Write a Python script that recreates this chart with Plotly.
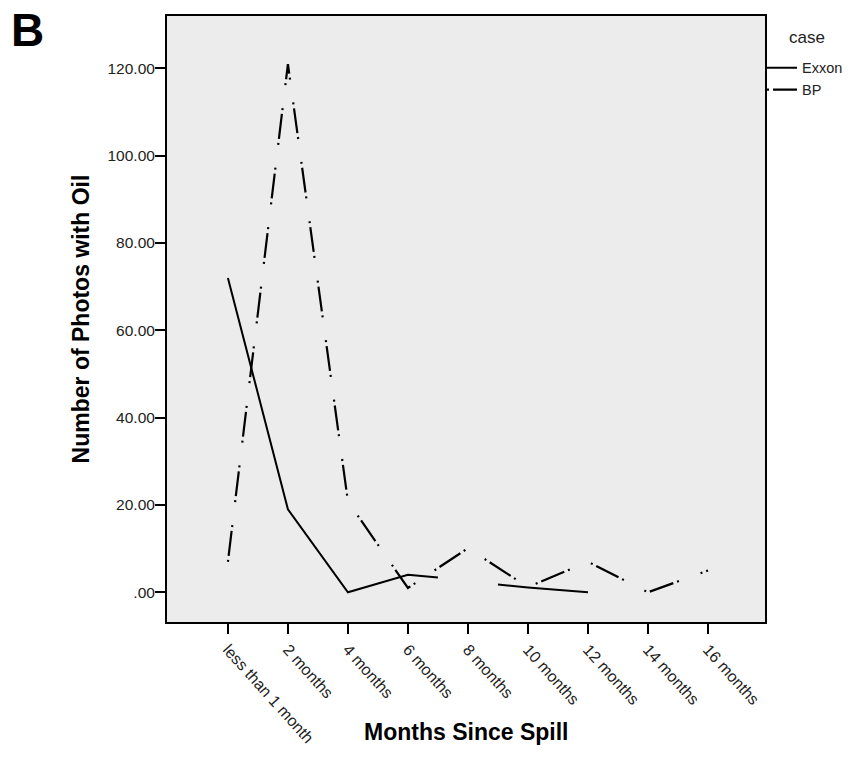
import plotly.graph_objects as go

# ---- data ----
tick_months = [0, 2, 4, 6, 8, 10, 12, 14, 16]
tick_labels = ["less than 1 month", "2 months", "4 months", "6 months", "8 months",
               "10 months", "12 months", "14 months", "16 months"]

exxon_months = [0, 2, 4, 6, 7, None, 9, 10, 12]
exxon_values = [72, 19, 0, 4, 3.4, None, 1.8, 1.1, 0]

bp_months = [0, 2, 4, 6, 8, 10, 12, 14, 16]
bp_values = [7, 121, 20.8, 1, 10.1, 1.2, 7, 0, 5]

y_ticks = [0, 20, 40, 60, 80, 100, 120]
y_tick_labels = [".00", "20.00", "40.00", "60.00", "80.00", "100.00", "120.00"]

FONT = "Liberation Sans, Arial, sans-serif"

fig = go.Figure()
fig.add_trace(go.Scatter(x=exxon_months, y=exxon_values, mode="lines", name="Exxon",
                         line=dict(color="black", width=2), connectgaps=False))
fig.add_trace(go.Scatter(x=bp_months, y=bp_values, mode="lines", name="BP",
                         line=dict(color="black", width=2.2,
                                   dash="2px,4px,25px,4px,2px,23px")))

fig.update_layout(
    width=851, height=774,
    margin=dict(l=167, r=86, t=16, b=152, autoexpand=False),
    paper_bgcolor="white",
    plot_bgcolor="#ECECEC",
    font=dict(family=FONT, color="black", size=14),
    showlegend=True,
    legend=dict(x=0.995, xanchor="left", y=0.941, yanchor="top",
                bgcolor="rgba(0,0,0,0)", font=dict(size=14.5, color="#222"),
                tracegroupgap=0),
    xaxis=dict(range=[-2.03, 17.9], tickmode="array", tickvals=tick_months,
               ticktext=tick_labels, tickangle=48, ticks="outside", ticklen=10,
               tickwidth=2, tickcolor="black", showgrid=False, zeroline=False,
               showline=True, linecolor="black", linewidth=2, mirror=True,
               automargin=False,
               tickfont=dict(size=16, color="#222")),
    yaxis=dict(range=[-6.8, 132.0], tickmode="array", tickvals=y_ticks,
               ticktext=y_tick_labels, ticks="outside", ticklen=10, tickwidth=2,
               tickcolor="black", showgrid=False, zeroline=False,
               showline=True, linecolor="black", linewidth=2, mirror=True,
               automargin=False, ticklabelstandoff=-3,
               tickfont=dict(size=15.5, color="#222"),
               title=dict(text="<b>Number of Photos with Oil</b>", font=dict(size=23), standoff=11)),
    annotations=[
        dict(text="<b>B</b>", xref="paper", yref="paper", x=-0.234, y=0.977,
             xanchor="center", yanchor="middle", showarrow=False,
             font=dict(size=46, family=FONT, color="black")),
        dict(text="<b>Months Since Spill</b>", xref="paper", yref="paper", x=0.5, y=-0.181,
             xanchor="center", yanchor="middle", showarrow=False,
             font=dict(size=23, family=FONT, color="black")),
        dict(text="case", xref="paper", yref="paper", x=1.070, y=0.964,
             xanchor="center", yanchor="middle", showarrow=False,
             font=dict(size=17, family=FONT, color="#222")),
    ],
)

# remove the browser's default 8px body margin so the figure fills the window exactly
fig.write_html("out.html", config={"displayModeBar": False},
               post_script="document.body.style.margin='0';")
